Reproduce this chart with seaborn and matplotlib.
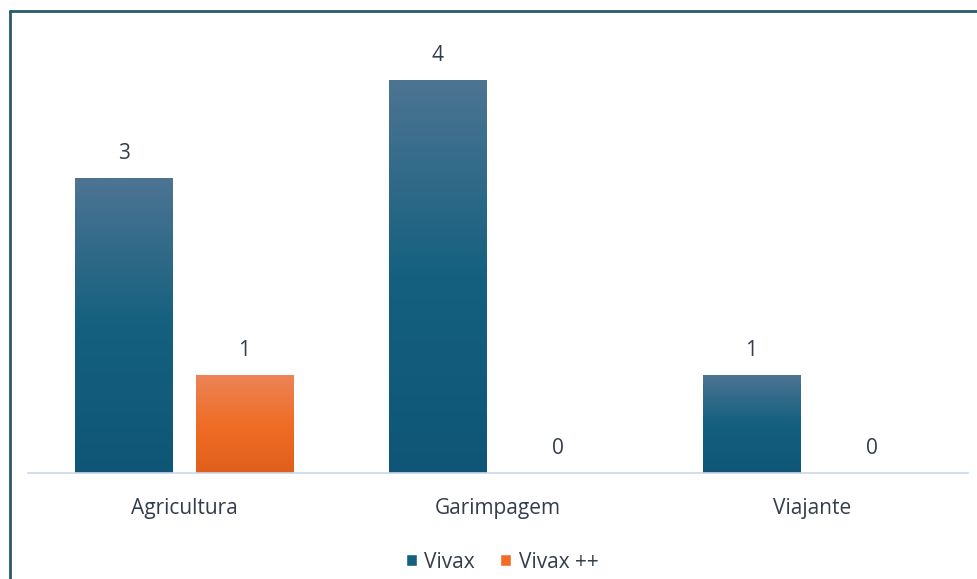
import numpy as np
import pandas as pd
import matplotlib
matplotlib.use('Agg')
import matplotlib.pyplot as plt
from matplotlib.colors import LinearSegmentedColormap
from matplotlib.patches import Patch
from matplotlib.lines import Line2D
import seaborn as sns

# Data
categories = ['Agricultura', 'Garimpagem', 'Viajante']
series_names = ['Vivax', 'Vivax ++']
vivax = [3, 4, 1]
vivax_pp = [1, 0, 0]

# Colours (top, middle, bottom of the gradient)
blue_grad = ['#4d7493', '#15607f', '#0f5676']
orange_grad = ['#ec8458', '#ef6d27', '#e05f1a']
text_color = '#333d4c'

sns.set_theme(style='white')
plt.rcParams['font.family'] = ['Open Sans', 'DejaVu Sans']
fs = 15

df = pd.DataFrame({
    'categoria': categories * 2,
    'serie': [series_names[0]] * 3 + [series_names[1]] * 3,
    'casos': vivax + vivax_pp,
})

fig = plt.figure(figsize=(9.78, 5.79), dpi=100)
ax = fig.add_axes([27.5 / 978, (579 - 473) / 579, (968.5 - 27.5) / 978, (473 - 31) / 579])

palette = {series_names[0]: blue_grad[1], series_names[1]: orange_grad[1]}
sns.barplot(data=df, x='categoria', y='casos', hue='serie', palette=palette,
            width=0.767, gap=0.19, ax=ax, legend=False, linewidth=0)

# Paint a vertical gradient into each bar
cmaps = [LinearSegmentedColormap.from_list('b', blue_grad[::-1]),
         LinearSegmentedColormap.from_list('o', orange_grad[::-1])]
grad = np.linspace(0, 1, 256).reshape(-1, 1)
for i, cont in enumerate(ax.containers):
    for bar in cont:
        h = bar.get_height()
        if h <= 0:
            continue
        x0 = bar.get_x()
        w = bar.get_width()
        im = ax.imshow(grad, cmap=cmaps[i], aspect='auto', origin='lower',
                       extent=[x0, x0 + w, 0, h], zorder=bar.get_zorder() + 0.1)
        im.set_clip_path(bar)
    ax.bar_label(cont, padding=10, fontsize=fs, color=text_color)

ax.set_aspect('auto')
ax.set_xlim(-0.5, 2.5)
ax.set_ylim(0, 4.5)

# Axis styling
for side in ['top', 'right', 'left']:
    ax.spines[side].set_visible(False)
ax.spines['bottom'].set_color('#c9d8ea')
ax.spines['bottom'].set_linewidth(1.2)
ax.set_yticks([])
ax.set_xlabel('')
ax.set_ylabel('')
ax.tick_params(axis='x', length=0, pad=18, labelsize=fs, labelcolor=text_color)

# Legend at the bottom
handles = [Patch(facecolor=blue_grad[1], label=series_names[0]),
           Patch(facecolor=orange_grad[1], label=series_names[1])]
fig.legend(handles=handles, loc='center', bbox_to_anchor=(502 / 978, 1 - 562 / 579),
           ncol=2, frameon=False, fontsize=fs, labelcolor=text_color,
           handlelength=0.55, handleheight=0.55, handletextpad=0.35, columnspacing=1.2)

# Frame lines at left and top of the chart area
border = '#275b6e'
fig.add_artist(Line2D([10 / 978, 10 / 978], [0, 1 - 11 / 579], transform=fig.transFigure,
                      color=border, linewidth=2))
fig.add_artist(Line2D([10 / 978, 1], [1 - 11 / 579, 1 - 11 / 579], transform=fig.transFigure,
                      color=border, linewidth=2))

fig.savefig('out.png', dpi=100)
